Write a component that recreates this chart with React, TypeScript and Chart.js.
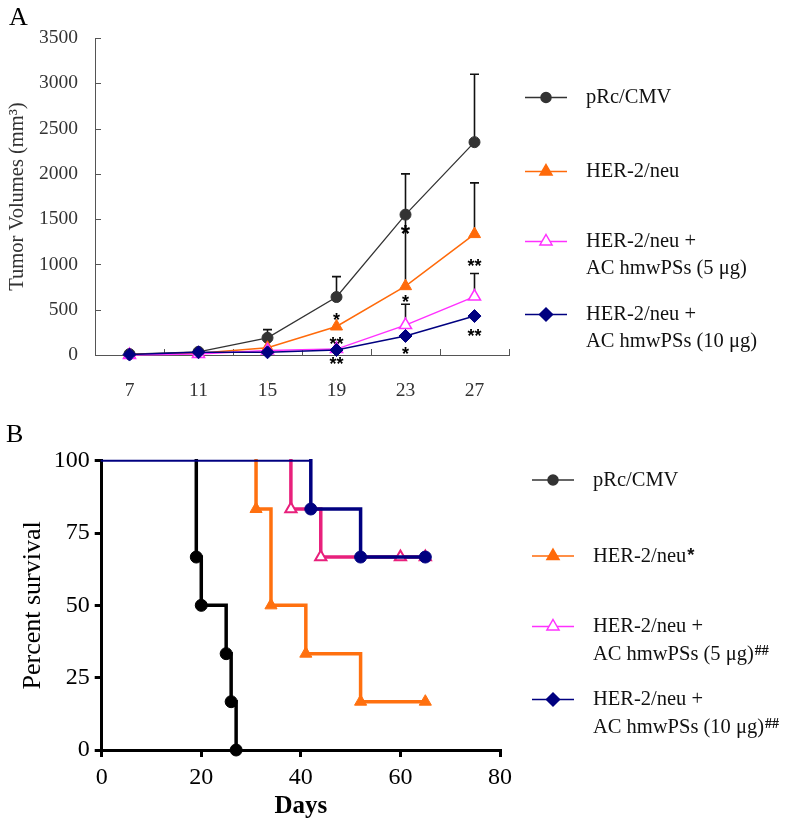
import React, { useEffect, useRef } from "react";
import { Chart, registerables } from "chart.js";

Chart.register(...registerables);

const SERIF = "'Liberation Serif', 'Times New Roman', serif";
const SANS = "'Liberation Sans', Arial, sans-serif";

// ---------- Panel A: tumour volumes ----------
const dayLabels = ["7", "11", "15", "19", "23", "27"];
const volCMV = [10, 35, 190, 640, 1550, 2350];
const volHER = [5, 20, 80, 315, 760, 1335];
const volHER5 = [0, 10, 50, 65, 330, 645];
const volHER10 = [5, 30, 30, 55, 210, 430];
const errTopCMV = [null, null, 280, 865, 2000, 3100];
const errTopHER = [null, null, null, null, 1550, 1900];
const errTopHER5 = [null, null, null, null, 560, 900];
const errTopHER10 = [null, null, null, null, null, null];

const starCats = [3, 3, 3, 4, 4, 4, 5, 5];
const starVals = [430, 165, -48, 1398, 632, 55, 1030, 257];
const starTexts = ["*", "**", "**", "*", "*", "*", "**", "**"];
const starBig = [false, false, false, true, false, false, false, false];

// ---------- Panel B: survival ----------
const kmCMVDays = [19, 20, 25, 26, 27];
const kmCMVSurv = [66.7, 50, 33.3, 16.7, 0];
const kmHERDays = [31, 34, 41, 52, 65];
const kmHERSurv = [83.3, 50, 33.3, 16.7, 16.7];
const kmHER5Days = [38, 44, 60, 65];
const kmHER5Surv = [83.3, 66.7, 66.7, 66.7];
const kmHER10Days = [42, 52, 65];
const kmHER10Surv = [83.3, 66.7, 66.7];

const legendNames = [
  ["pRc/CMV"],
  ["HER-2/neu"],
  ["HER-2/neu +", "AC hmwPSs (5 \u03bcg)"],
  ["HER-2/neu +", "AC hmwPSs (10 \u03bcg)"],
];
const legendSupB = ["", "*", "##", "##"];

const C_BLACK_A = "#333333";
const C_ORANGE = "#FF6A0A";
const C_MAGENTA = "#FF30FF";
const C_NAVY = "#000080";
const C_PINK_B = "#E8207C";
const C_ORANGE_B = "#FF700F";

type Mark = { kind: string; stroke: string; fill: string; r: number };
const legendMarks: Mark[] = [
  { kind: "circle", stroke: C_BLACK_A, fill: C_BLACK_A, r: 5 },
  { kind: "triangle", stroke: C_ORANGE, fill: C_ORANGE, r: 7 },
  { kind: "triangle", stroke: C_MAGENTA, fill: "#ffffff", r: 7 },
  { kind: "diamond", stroke: C_NAVY, fill: C_NAVY, r: 6.5 },
];

function drawMarker(ctx: CanvasRenderingContext2D, m: Mark, x: number, y: number, lw: number) {
  ctx.beginPath();
  if (m.kind === "circle") {
    ctx.arc(x, y, m.r, 0, Math.PI * 2);
  } else if (m.kind === "triangle") {
    ctx.moveTo(x, y - m.r);
    ctx.lineTo(x + 0.866 * m.r, y + 0.5 * m.r);
    ctx.lineTo(x - 0.866 * m.r, y + 0.5 * m.r);
    ctx.closePath();
  } else {
    ctx.moveTo(x, y - m.r);
    ctx.lineTo(x + m.r, y);
    ctx.lineTo(x, y + m.r);
    ctx.lineTo(x - m.r, y);
    ctx.closePath();
  }
  ctx.fillStyle = m.fill;
  ctx.fill();
  ctx.lineWidth = lw;
  ctx.strokeStyle = m.stroke;
  ctx.stroke();
}

function drawLegend(
  ctx: CanvasRenderingContext2D,
  x0: number,
  x1: number,
  xt: number,
  rows: number[],
  dy: number,
  size: number,
  sups: string[] | null
) {
  ctx.save();
  legendNames.forEach((lines, i) => {
    const y = rows[i];
    const m = legendMarks[i];
    ctx.beginPath();
    ctx.moveTo(x0, y + 1);
    ctx.lineTo(x1, y + 1);
    ctx.lineWidth = 1.5;
    ctx.strokeStyle = m.stroke;
    ctx.stroke();
    drawMarker(ctx, m, (x0 + x1) / 2, y + 1, 1.5);
    ctx.fillStyle = "#111111";
    ctx.textBaseline = "alphabetic";
    ctx.textAlign = "left";
    lines.forEach((t, j) => {
      const base = y + j * dy + size * 0.33;
      ctx.font = `${size}px ${SERIF}`;
      ctx.fillText(t, xt, base);
      if (sups && sups[i] && j === lines.length - 1) {
        const w = ctx.measureText(t).width;
        if (sups[i] === "*") {
          ctx.font = `bold ${size - 2}px ${SANS}`;
          ctx.fillText(sups[i], xt + w + 1, base - 1);
        } else {
          ctx.font = `bold ${Math.round(size * 0.68)}px ${SERIF}`;
          ctx.fillText(sups[i], xt + w + 1, base - 5);
        }
      }
    });
  });
  ctx.restore();
}

const pluginA = {
  id: "panelA",
  beforeDatasetsDraw(chart: any) {
    const { ctx, chartArea } = chart;
    const xs = chart.scales.x;
    const ys = chart.scales.y;
    ctx.save();
    // inward tick marks
    ctx.strokeStyle = "#555555";
    ctx.lineWidth = 1;
    ys.ticks.forEach((t: any) => {
      const py = Math.round(ys.getPixelForValue(t.value)) + 0.5;
      ctx.beginPath();
      ctx.moveTo(chartArea.left, py);
      ctx.lineTo(chartArea.left + 6, py);
      ctx.stroke();
    });
    const bounds: number[] = [];
    for (let i = 0; i < dayLabels.length - 1; i++) {
      bounds.push((xs.getPixelForValue(i) + xs.getPixelForValue(i + 1)) / 2);
    }
    bounds.push(chartArea.right);
    bounds.forEach((bx) => {
      const px = Math.round(bx) + 0.5;
      ctx.beginPath();
      ctx.moveTo(px, chartArea.bottom);
      ctx.lineTo(px, chartArea.bottom - 6);
      ctx.stroke();
    });
    // error bars
    ctx.strokeStyle = "#111111";
    ctx.lineWidth = 1.6;
    const pairs: [number[], (number | null)[]][] = [
      [volCMV, errTopCMV],
      [volHER, errTopHER],
      [volHER5, errTopHER5],
      [volHER10, errTopHER10],
    ];
    pairs.forEach(([v, e]) => {
      e.forEach((top, i) => {
        if (top == null) return;
        const px = xs.getPixelForValue(i);
        const y0 = ys.getPixelForValue(v[i]);
        const y1 = ys.getPixelForValue(top);
        ctx.beginPath();
        ctx.moveTo(px, y0);
        ctx.lineTo(px, y1);
        ctx.moveTo(px - 4.5, y1);
        ctx.lineTo(px + 4.5, y1);
        ctx.stroke();
      });
    });
    ctx.restore();
  },
  afterDraw(chart: any) {
    const { ctx } = chart;
    const xs = chart.scales.x;
    const ys = chart.scales.y;
    ctx.save();
    ctx.fillStyle = "#000000";
    ctx.textAlign = "center";
    ctx.textBaseline = "alphabetic";
    starTexts.forEach((t, i) => {
      const size = starBig[i] ? 24 : 18;
      ctx.font = `bold ${size}px ${SANS}`;
      const px = xs.getPixelForValue(starCats[i]);
      const py = ys.getPixelForValue(starVals[i]);
      ctx.fillText(t, px, py + size * 0.57);
    });
    // panel letter
    ctx.font = `26px ${SERIF}`;
    ctx.textAlign = "left";
    ctx.fillText("A", 9, 25);
    drawLegend(ctx, 525, 567, 586, [96.5, 170.5, 240.5, 313.5], 27, 20.5, null);
    ctx.restore();
  },
};

function buildKM(days: number[], surv: number[]) {
  const pts: { x: number; y: number; m: boolean }[] = [{ x: 0, y: 100, m: false }];
  let prev = 100;
  days.forEach((d, i) => {
    pts.push({ x: d, y: prev, m: false });
    pts.push({ x: d, y: surv[i], m: true });
    prev = surv[i];
  });
  return pts;
}

const pluginB = {
  id: "panelB",
  afterDraw(chart: any) {
    const { ctx } = chart;
    ctx.save();
    ctx.fillStyle = "#000000";
    ctx.font = `26px ${SERIF}`;
    ctx.textAlign = "left";
    ctx.textBaseline = "alphabetic";
    ctx.fillText("B", 6, 42);
    drawLegend(ctx, 532, 574, 593, [79, 155, 225.5, 298.5], 27.5, 20.5, legendSupB);
    ctx.restore();
  },
};

const isTop = (c: any) => c.p0.parsed.y === 100 && c.p1.parsed.y === 100;

export default function App() {
  const refA = useRef<HTMLCanvasElement>(null);
  const refB = useRef<HTMLCanvasElement>(null);

  useEffect(() => {
    Chart.defaults.font.family = SERIF;
    Chart.defaults.color = "#000";

    const chartA = new Chart(refA.current as HTMLCanvasElement, {
      type: "line",
      data: {
        labels: dayLabels,
        datasets: [
          {
            label: "HER-2/neu + AC hmwPSs (10 μg)",
            data: volHER10,
            borderColor: C_NAVY,
            backgroundColor: C_NAVY,
            borderWidth: 1.5,
            pointStyle: "rectRot",
            pointRadius: 6.5,
            pointBorderWidth: 1,
            order: 0,
            clip: false as any,
          },
          {
            label: "HER-2/neu + AC hmwPSs (5 μg)",
            data: volHER5,
            borderColor: C_MAGENTA,
            backgroundColor: "#ffffff",
            borderWidth: 1.5,
            pointStyle: "triangle",
            pointRadius: 7,
            pointBorderWidth: 1.5,
            order: 1,
            clip: false as any,
          },
          {
            label: "HER-2/neu",
            data: volHER,
            borderColor: C_ORANGE,
            backgroundColor: C_ORANGE,
            borderWidth: 1.5,
            pointStyle: "triangle",
            pointRadius: 7,
            pointBorderWidth: 1,
            order: 2,
            clip: false as any,
          },
          {
            label: "pRc/CMV",
            data: volCMV,
            borderColor: C_BLACK_A,
            backgroundColor: C_BLACK_A,
            borderWidth: 1.3,
            pointStyle: "circle",
            pointRadius: 5.5,
            pointBorderWidth: 1,
            order: 3,
            clip: false as any,
          },
        ],
      },
      options: {
        responsive: false,
        animation: false,
        events: [],
        layout: { padding: { left: 0, top: 38, right: 276, bottom: 0 } },
        plugins: { legend: { display: false }, tooltip: { enabled: false } },
        scales: {
          x: {
            type: "category",
            offset: true,
            grid: { display: false, drawTicks: false },
            border: { display: true, color: "#555555", width: 1 },
            ticks: { font: { size: 19.5 }, color: "#333333", padding: 24 },
            afterFit: (s: any) => {
              s.height = 45;
            },
          },
          y: {
            min: 0,
            max: 3500,
            ticks: {
              stepSize: 500,
              font: { size: 19.5 },
              color: "#333333",
              padding: 17,
              callback: (v: any) => String(v),
            },
            grid: { display: false, drawTicks: false },
            border: { display: true, color: "#555555", width: 1 },
            title: {
              display: true,
              text: "Tumor Volumes (mm\u00b3)",
              font: { size: 20.5 },
              color: "#333333",
              padding: { top: 5, bottom: 5 },
            },
            afterFit: (s: any) => {
              s.width = 95;
            },
          },
        },
      },
      plugins: [pluginA],
    } as any);

    const kmDataset = (label: string, days: number[], surv: number[], color: string, style: string, fill: string, r: number, bw: number, order: number, topColor: string) => ({
      label,
      data: buildKM(days, surv),
      borderColor: color,
      backgroundColor: fill,
      borderWidth: 3.5,
      borderJoinStyle: "miter",
      borderCapStyle: "square",
      pointStyle: style,
      pointRadius: (c: any) => (c.raw && c.raw.m ? r : 0),
      pointBorderColor: color,
      pointBackgroundColor: fill,
      pointBorderWidth: bw,
      order,
      clip: false,
      segment: {
        borderColor: (c: any) => (isTop(c) ? topColor : undefined),
        borderWidth: (c: any) => (isTop(c) ? 2 : undefined),
      },
    });

    const chartB = new Chart(refB.current as HTMLCanvasElement, {
      type: "line",
      data: {
        datasets: [
          kmDataset("HER-2/neu + AC hmwPSs (10 μg)", kmHER10Days, kmHER10Surv, C_NAVY, "circle", C_NAVY, 6, 1, 0, C_NAVY),
          kmDataset("HER-2/neu + AC hmwPSs (5 μg)", kmHER5Days, kmHER5Surv, C_PINK_B, "triangle", "#ffffff", 6.5, 2, 1, "rgba(0,0,0,0)"),
          kmDataset("HER-2/neu", kmHERDays, kmHERSurv, C_ORANGE_B, "triangle", C_ORANGE_B, 7, 1, 2, "rgba(0,0,0,0)"),
          kmDataset("pRc/CMV", kmCMVDays, kmCMVSurv, "#000000", "circle", "#000000", 6, 1, 3, "rgba(0,0,0,0)"),
        ],
      },
      options: {
        responsive: false,
        animation: false,
        events: [],
        parsing: true,
        layout: { padding: { left: 0, top: 60.7, right: 285, bottom: 0 } },
        plugins: { legend: { display: false }, tooltip: { enabled: false } },
        scales: {
          x: {
            type: "linear",
            min: 0,
            max: 80,
            ticks: { stepSize: 20, font: { size: 24 }, color: "#000", padding: 6 },
            grid: { display: true, drawOnChartArea: false, drawTicks: true, tickLength: 7, lineWidth: 3, color: "#000" },
            border: { display: true, color: "#000", width: 3 },
            title: {
              display: true,
              text: "Days",
              font: { size: 25, weight: "bold" },
              color: "#000",
              padding: { top: 0, bottom: 4 },
            },
            afterFit: (s: any) => {
              s.height = 76;
            },
          },
          y: {
            min: 0,
            max: 100,
            ticks: { stepSize: 25, font: { size: 24 }, color: "#000", padding: 5 },
            grid: { display: true, drawOnChartArea: false, drawTicks: true, tickLength: 7, lineWidth: 3, color: "#000" },
            border: { display: true, color: "#000", width: 3 },
            title: {
              display: true,
              text: "Percent survival",
              font: { size: 26 },
              color: "#000",
              padding: { top: 18, bottom: 18 },
            },
            afterFit: (s: any) => {
              s.width = 101.7;
            },
          },
        },
      },
      plugins: [pluginB],
    } as any);

    return () => {
      chartA.destroy();
      chartB.destroy();
    };
  }, []);

  return (
    <div style={{ position: "absolute", left: 0, top: 0, width: 785, height: 826, background: "#ffffff" }}>
      <canvas ref={refA} width={785} height={400} style={{ position: "absolute", left: 0, top: 0, width: 785, height: 400 }} />
      <canvas ref={refB} width={785} height={426} style={{ position: "absolute", left: 0, top: 400, width: 785, height: 426 }} />
    </div>
  );
}
